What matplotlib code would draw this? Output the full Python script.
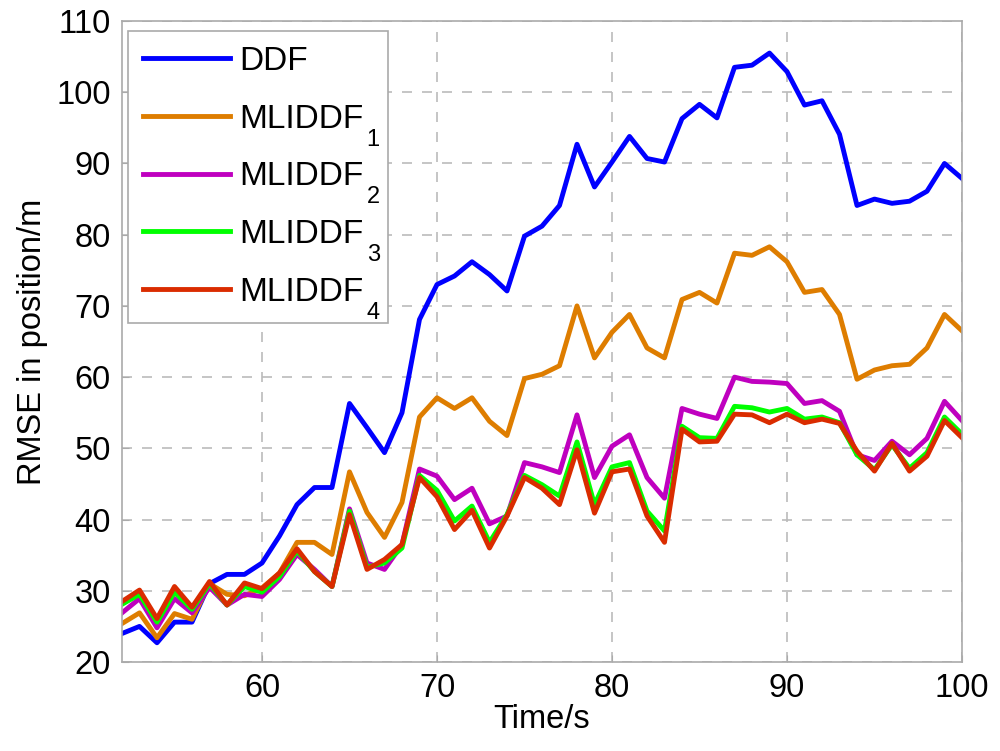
import matplotlib.pyplot as plt
import numpy as np

plt.rcParams['font.family'] = ['Liberation Sans', 'DejaVu Sans']

# time axis, one point per second
t = np.arange(52, 101)

ddf = [24.0, 25.0, 22.7, 25.6, 25.6, 31.0, 32.3, 32.3, 33.9, 37.7,
       42.1, 44.5, 44.5, 56.3, 52.9, 49.4, 55.0, 68.1, 73.0, 74.2,
       76.2, 74.4, 72.1, 79.8, 81.2, 84.1, 92.7, 86.7, 90.2, 93.8,
       90.7, 90.2, 96.3, 98.3, 96.4, 103.5, 103.8, 105.5, 102.9, 98.2,
       98.8, 94.1, 84.1, 85.0, 84.4, 84.7, 86.1, 90.0, 87.9]

mliddf1 = [25.4, 26.9, 23.4, 26.8, 26.0, 31.0, 29.5, 29.3, 30.4, 32.5,
           36.8, 36.8, 35.1, 46.7, 41.0, 37.5, 42.4, 54.4, 57.1, 55.6,
           57.1, 53.8, 51.8, 59.8, 60.4, 61.6, 70.0, 62.7, 66.3, 68.8,
           64.1, 62.7, 70.9, 71.9, 70.4, 77.4, 77.1, 78.3, 76.2, 71.9,
           72.3, 68.8, 59.7, 61.0, 61.6, 61.8, 64.1, 68.8, 66.5]

mliddf2 = [26.9, 28.9, 24.8, 28.9, 26.9, 30.5, 28.0, 29.5, 29.2, 31.6,
           35.1, 33.0, 30.6, 41.5, 33.9, 33.0, 36.5, 47.1, 46.1, 42.8,
           44.4, 39.4, 40.5, 48.0, 47.4, 46.6, 54.7, 45.9, 50.3, 51.9,
           45.9, 43.0, 55.6, 54.8, 54.2, 60.0, 59.4, 59.3, 59.1, 56.3,
           56.7, 55.2, 49.1, 48.3, 51.0, 49.1, 51.4, 56.6, 53.9]

mliddf3 = [28.1, 29.5, 25.6, 29.8, 27.4, 31.0, 28.0, 30.6, 29.8, 32.0,
           35.6, 32.7, 30.6, 41.2, 33.3, 33.9, 36.0, 46.2, 44.1, 39.8,
           41.9, 36.8, 40.7, 46.2, 44.9, 43.3, 50.9, 42.1, 47.4, 48.0,
           41.2, 38.4, 53.1, 51.5, 51.4, 55.9, 55.7, 55.1, 55.6, 54.1,
           54.4, 53.6, 49.1, 47.0, 50.5, 47.2, 49.4, 54.4, 52.0]

mliddf4 = [28.5, 30.1, 26.1, 30.6, 27.7, 31.3, 28.0, 31.1, 30.3, 32.5,
           35.9, 32.7, 30.6, 40.7, 33.0, 34.4, 36.5, 45.9, 43.2, 38.6,
           41.3, 36.0, 40.5, 45.9, 44.4, 42.1, 49.8, 40.9, 46.7, 47.1,
           40.5, 36.8, 52.7, 50.9, 51.0, 54.8, 54.7, 53.6, 54.8, 53.6,
           54.1, 53.5, 49.6, 46.8, 50.7, 46.8, 48.9, 53.9, 51.5]

names = ['DDF', 'MLIDDF', 'MLIDDF', 'MLIDDF', 'MLIDDF']
subs = ['', '1', '2', '3', '4']
colors = ['#0000FF', '#DE7D00', '#BF00BF', '#00FF00', '#DA2C00']

fig = plt.figure(figsize=(10, 7.51), dpi=100)
ax = fig.add_axes([0.122, 0.1185, 0.84, 0.8535])

for y, lab, c in zip([ddf, mliddf1, mliddf2, mliddf3, mliddf4], names, colors):
    ax.plot(t, y, color=c, lw=3.5, label=lab)

ax.set_xlim(52, 100)
ax.set_ylim(20, 110)
ax.set_xticks([60, 70, 80, 90, 100])
ax.set_yticks(np.arange(20, 111, 10))
ax.grid(True, color='#BBBBBB', linestyle=(0, (6, 6)), lw=1.2)
for s in ax.spines.values():
    s.set_color('#AAAAAA')
    s.set_linewidth(1.2)
ax.tick_params(direction='in', length=5, color='#AAAAAA', labelsize=23.5, pad=8)

ax.set_xlabel('Time/s', fontsize=23.5, labelpad=0)
ax.set_ylabel('RMSE in position/m', fontsize=23.5, labelpad=6)

# expand mode so the frame also covers the lowered subscripts
leg = ax.legend(loc='upper left', bbox_to_anchor=(0.0071, 0.0, 0.3096, 0.9844),
                mode='expand', fontsize=24, frameon=True, fancybox=False,
                edgecolor='#AAAAAA', framealpha=1, handlelength=2.6,
                handletextpad=0.3, labelspacing=0.8, borderaxespad=0,
                borderpad=0.45)
leg.get_frame().set_linewidth(1.2)

# MATLAB-style lowered subscripts
for txt, sub in zip(leg.get_texts(), subs):
    if sub:
        ax.annotate(sub, xy=(1, 0), xycoords=txt, xytext=(2, -8),
                    textcoords='offset points', fontsize=17, va='baseline',
                    zorder=10)

fig.savefig('out.png', dpi=100)
